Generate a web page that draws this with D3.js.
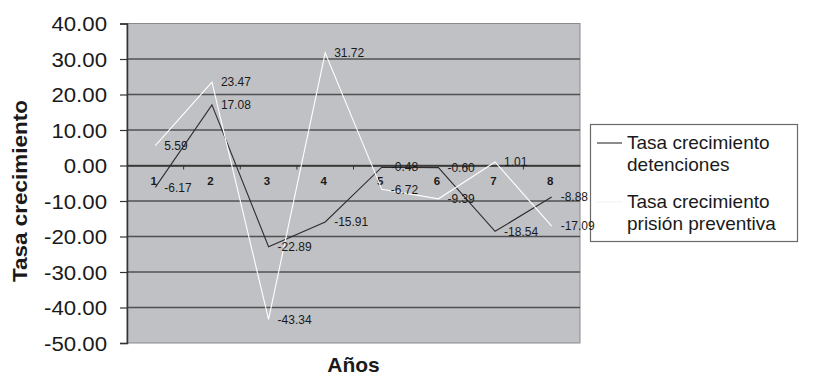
<!DOCTYPE html>
<html>
<head>
<meta charset="utf-8">
<script src="https://cdn.jsdelivr.net/npm/d3@7"></script>
<style>
  html, body { margin: 0; padding: 0; background: #fff; }
  svg { display: block; }
  text { font-family: "Liberation Sans", Arial, sans-serif; }
</style>
</head>
<body>
<svg id="chart" width="833" height="375"></svg>
<script>
// Year index on the horizontal axis
const years = ["1", "2", "3", "4", "5", "6", "7", "8"];
// Growth rate of arrests
const detenciones = [-6.17, 17.08, -22.89, -15.91, -0.48, -0.60, -18.54, -8.88];
// Growth rate of pre-trial detention
const prisionPreventiva = [5.59, 23.47, -43.34, 31.72, -6.72, -9.39, 1.01, -17.09];
// Vertical axis ticks
const yTicks = [40, 30, 20, 10, 0, -10, -20, -30, -40, -50];

const seriesNames = ["Tasa crecimiento detenciones", "Tasa crecimiento prisión preventiva"];

const svg = d3.select("#chart");
const plot = { left: 127, right: 580, top: 23.5, bottom: 343 };

const x = d3.scaleBand().domain(years).range([plot.left, plot.right]).padding(0);
const y = d3.scaleLinear().domain([-50, 40]).range([plot.bottom, plot.top]);
const cx = d => x(d) + x.bandwidth() / 2;

// Two decimals with a plain hyphen as the minus sign
const locale = d3.formatLocale({ decimal: ".", thousands: ",", grouping: [3], currency: ["", ""], minus: "-" });
const fmt = locale.format(".2f");

// Plot background
svg.append("rect")
  .attr("x", plot.left).attr("y", plot.top)
  .attr("width", plot.right - plot.left).attr("height", plot.bottom - plot.top)
  .attr("fill", "#c0c1c5")
  .attr("stroke", "#8a8a8c").attr("stroke-width", 1);

// Horizontal gridlines
svg.append("g").selectAll("line")
  .data(yTicks.filter(t => t !== 40 && t !== -50))
  .join("line")
  .attr("x1", plot.left).attr("x2", plot.right)
  .attr("y1", d => y(d)).attr("y2", d => y(d))
  .attr("stroke", "#505052").attr("stroke-width", 1.5);

// Vertical axis
const yAxis = d3.axisLeft(y).tickValues(yTicks).tickSize(7).tickFormat(fmt);
const gy = svg.append("g").attr("transform", `translate(${plot.left},0)`).call(yAxis);
gy.select(".domain").attr("stroke", "#333").attr("stroke-width", 1.5);
gy.selectAll(".tick line").attr("stroke", "#333").attr("stroke-width", 1.2);
gy.selectAll(".tick text")
  .attr("x", null).attr("dy", null)
  .attr("font-size", 19.5).attr("fill", "#1a1a1a")
  .attr("text-anchor", "end")
  .attr("transform", "translate(-20,7) scale(1.14,1)")
  .style("font-family", "'Liberation Sans', Arial, sans-serif");

// Category axis crossing at zero
const xAxis = d3.axisBottom(x).tickSize(0);
const gx = svg.append("g").attr("transform", `translate(0,${y(0)})`).call(xAxis);
gx.select(".domain").attr("stroke", "#333").attr("stroke-width", 1.5);
gx.selectAll(".tick text")
  .attr("y", 11).attr("dy", "0.71em")
  .attr("x", -1.5)
  .attr("font-size", 11.5).attr("font-weight", "bold").attr("fill", "#1a1a1a")
  .style("font-family", "'Liberation Sans Narrow', 'Liberation Sans', Arial, sans-serif");
// Minor marks at the category boundaries
gx.append("g").selectAll("line")
  .data(years.slice(1))
  .join("line")
  .attr("x1", d => x(d)).attr("x2", d => x(d))
  .attr("y1", 0).attr("y2", 4)
  .attr("stroke", "#333").attr("stroke-width", 1);

// Series lines
const lineGen = vals => d3.line()
  .x((d, i) => cx(years[i]))
  .y(d => y(d))(vals);

const series = [
  { name: seriesNames[0], values: detenciones, color: "#2e2e30", width: 1.1 },
  { name: seriesNames[1], values: prisionPreventiva, color: "#ffffff", width: 1.1 }
];

svg.append("g").selectAll("path")
  .data(series)
  .join("path")
  .attr("d", s => lineGen(s.values))
  .attr("fill", "none")
  .attr("stroke", s => s.color)
  .attr("stroke-width", s => s.width);

// Axis titles
svg.append("text")
  .attr("transform", "translate(27,191) rotate(-90)")
  .attr("text-anchor", "middle")
  .attr("font-size", 20.5).attr("font-weight", "bold").attr("fill", "#1a1a1a")
  .attr("textLength", 182).attr("lengthAdjust", "spacingAndGlyphs")
  .text("Tasa crecimiento");

svg.append("text")
  .attr("x", (plot.left + plot.right) / 2 + 0).attr("y", 372)
  .attr("text-anchor", "middle")
  .attr("font-size", 21).attr("font-weight", "bold").attr("fill", "#1a1a1a")
  .text("Años");

// Legend
const legend = svg.append("g");
legend.append("rect")
  .attr("x", 590.5).attr("y", 124.5).attr("width", 207).attr("height", 117)
  .attr("fill", "#fff").attr("stroke", "#6a6a6a").attr("stroke-width", 1.2);

const legendRows = [
  { s: series[0], lines: ["Tasa crecimiento", "detenciones"], y: 141 },
  { s: series[1], lines: ["Tasa crecimiento", "prisión preventiva"], y: 200 }
];
legendRows.forEach(r => {
  legend.append("line")
    .attr("x1", 597).attr("x2", 622)
    .attr("y1", r.y + 2).attr("y2", r.y + 2)
    .attr("stroke", r.s.color === "#ffffff" ? "#f2f2f2" : r.s.color)
    .attr("stroke-width", 1.1);
  r.lines.forEach((t, k) => {
    legend.append("text")
      .attr("x", 627).attr("y", r.y + 8 + k * 22)
      .attr("font-size", 19).attr("fill", "#1a1a1a")
      .text(t);
  });
});

// Value labels next to each point (drawn last, on top of everything)
series.forEach(s => {
  svg.append("g").selectAll("text")
    .data(s.values)
    .join("text")
    .attr("x", (d, i) => cx(years[i]) + 9)
    .attr("y", d => y(d))
    .attr("dy", "0.35em")
    .attr("font-size", 12)
    .attr("fill", "#1a1a1a")
    .text(d => fmt(d));
});
</script>
</body>
</html>
